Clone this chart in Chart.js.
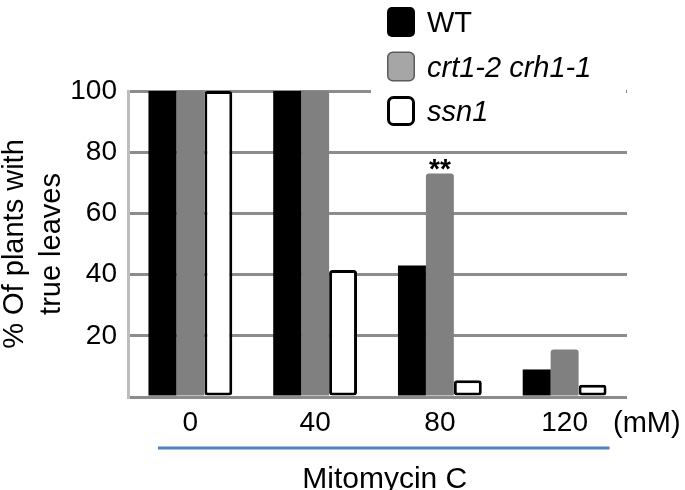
<!DOCTYPE html>
<html>
<head>
<meta charset="utf-8">
<script src="https://cdn.jsdelivr.net/npm/chart.js@4"></script>
<style>
  html, body { margin: 0; padding: 0; background: #fff; }
  #wrap { width: 685px; height: 490px; }
</style>
</head>
<body>
<div id="wrap"><canvas id="chart" width="685" height="490"></canvas></div>
<script>
// data
const doses = ['0', '40', '80', '120'];
const doseUnit = '(mM)';
const seriesNames = ['WT', 'crt1-2 crh1-1', 'ssn1'];
const wtValues = [100, 100, 43, 9];
const crtValues = [100, 100, 73, 15.5];
const ssnValues = [100, 41.5, 5.5, 4];
const significance = ['', '', '**', ''];
const yTitle = ['% Of plants with', 'true leaves'];
const xTitle = 'Mitomycin C';

const FAMILY = '"Liberation Sans", Arial, Helvetica, sans-serif';
const TICK_SIZE = 28;
const TEXT_SIZE = 29;

Chart.defaults.font.family = FAMILY;
Chart.defaults.color = '#000';

// legend look (the legend swatches are lighter than the bars)
const legendStyles = [
    { fill: '#000', stroke: '#000', width: 0, italic: false },
    { fill: '#a6a6a6', stroke: '#5a5a5a', width: 1.5, italic: true },
    { fill: '#fff', stroke: '#000', width: 3, italic: true }
];

function box(ctx, x, y, w, h, r) {
    ctx.beginPath();
    if (ctx.roundRect) ctx.roundRect(x, y, w, h, r);
    else ctx.rect(x, y, w, h);
}

const extras = {
    id: 'extras',
    afterDraw(chart) {
        const ctx = chart.ctx;
        const area = chart.chartArea;
        const x = chart.scales.x;
        ctx.save();

        // legend, on a white patch over the top grid line
        const legLeft = 387;
        ctx.fillStyle = '#fff';
        ctx.fillRect(legLeft - 16, 0, area.right - 1 - (legLeft - 16), 128);
        seriesNames.forEach((name, i) => {
            const st = legendStyles[i];
            const top = 7 + i * 44.5;
            box(ctx, legLeft + st.width / 2, top + st.width / 2, 28 - st.width, 30 - st.width, 5);
            ctx.fillStyle = st.fill;
            ctx.fill();
            if (st.width) {
                ctx.lineWidth = st.width;
                ctx.strokeStyle = st.stroke;
                ctx.stroke();
            }
            ctx.fillStyle = '#000';
            ctx.font = (st.italic ? 'italic ' : '') + TEXT_SIZE + 'px ' + FAMILY;
            ctx.textAlign = 'left';
            ctx.textBaseline = 'middle';
            ctx.fillText(name, legLeft + 40, top + 17);
        });

        // significance marks above the crt1-2 crh1-1 bars
        const crtMeta = chart.getDatasetMeta(1);
        ctx.font = 'bold 28px ' + FAMILY;
        ctx.textAlign = 'center';
        ctx.textBaseline = 'alphabetic';
        significance.forEach((s, i) => {
            if (!s) return;
            const bar = crtMeta.data[i];
            ctx.fillText(s, bar.x, bar.y + 4);
        });

        // unit next to the dose labels
        ctx.font = TEXT_SIZE + 'px ' + FAMILY;
        ctx.textAlign = 'left';
        ctx.fillText(doseUnit, area.right - 14, area.bottom + 35);

        // blue bracket line + treatment name
        const x0 = x.getPixelForValue(-0.26);
        const x1 = x.getPixelForValue(3.36);
        const ly = area.bottom + 51;
        ctx.strokeStyle = '#4f81bd';
        ctx.lineWidth = 3;
        ctx.beginPath();
        ctx.moveTo(x0, ly);
        ctx.lineTo(x1, ly);
        ctx.stroke();
        ctx.font = '30px ' + FAMILY;
        ctx.textAlign = 'center';
        ctx.fillText(xTitle, (x0 + x1) / 2 + 1, area.bottom + 91);

        ctx.restore();
    }
};

new Chart(document.getElementById('chart'), {
    type: 'bar',
    data: {
        labels: doses,
        datasets: [{
            label: seriesNames[0],
            data: wtValues,
            backgroundColor: '#000',
            borderWidth: 0
        }, {
            label: seriesNames[1],
            data: crtValues,
            backgroundColor: '#808080',
            borderWidth: 0,
            borderRadius: { topLeft: 3, topRight: 3 }
        }, {
            label: seriesNames[2],
            data: ssnValues,
            backgroundColor: '#fff',
            borderColor: '#000',
            borderWidth: 3,
            borderSkipped: false,
            borderRadius: 3
        }]
    },
    options: {
        responsive: false,
        animation: false,
        devicePixelRatio: 1,
        categoryPercentage: 0.672,
        barPercentage: 1,
        layout: { padding: { top: 91, right: 58, left: 0, bottom: 0 } },
        plugins: {
            legend: { display: false },
            tooltip: { enabled: false }
        },
        scales: {
            x: {
                grid: { display: false, drawTicks: false },
                border: { display: false },
                ticks: { font: { size: TICK_SIZE }, padding: 9 },
                afterFit(scale) { scale.height = 93; }
            },
            y: {
                min: 0,
                max: 100,
                grid: { color: '#8c8c8c', lineWidth: 3, drawTicks: false },
                border: { display: true, color: '#bdbdbd', width: 3 },
                ticks: {
                    stepSize: 20,
                    padding: 11,
                    font: { size: TICK_SIZE },
                    callback: v => (v === 0 ? '' : v)
                },
                title: {
                    display: true,
                    text: yTitle,
                    font: { size: TEXT_SIZE, lineHeight: 1.26 },
                    padding: { top: -3, bottom: 0 }
                },
                afterFit(scale) { scale.width = 128; }
            }
        }
    },
    plugins: [extras]
});
</script>
</body>
</html>
